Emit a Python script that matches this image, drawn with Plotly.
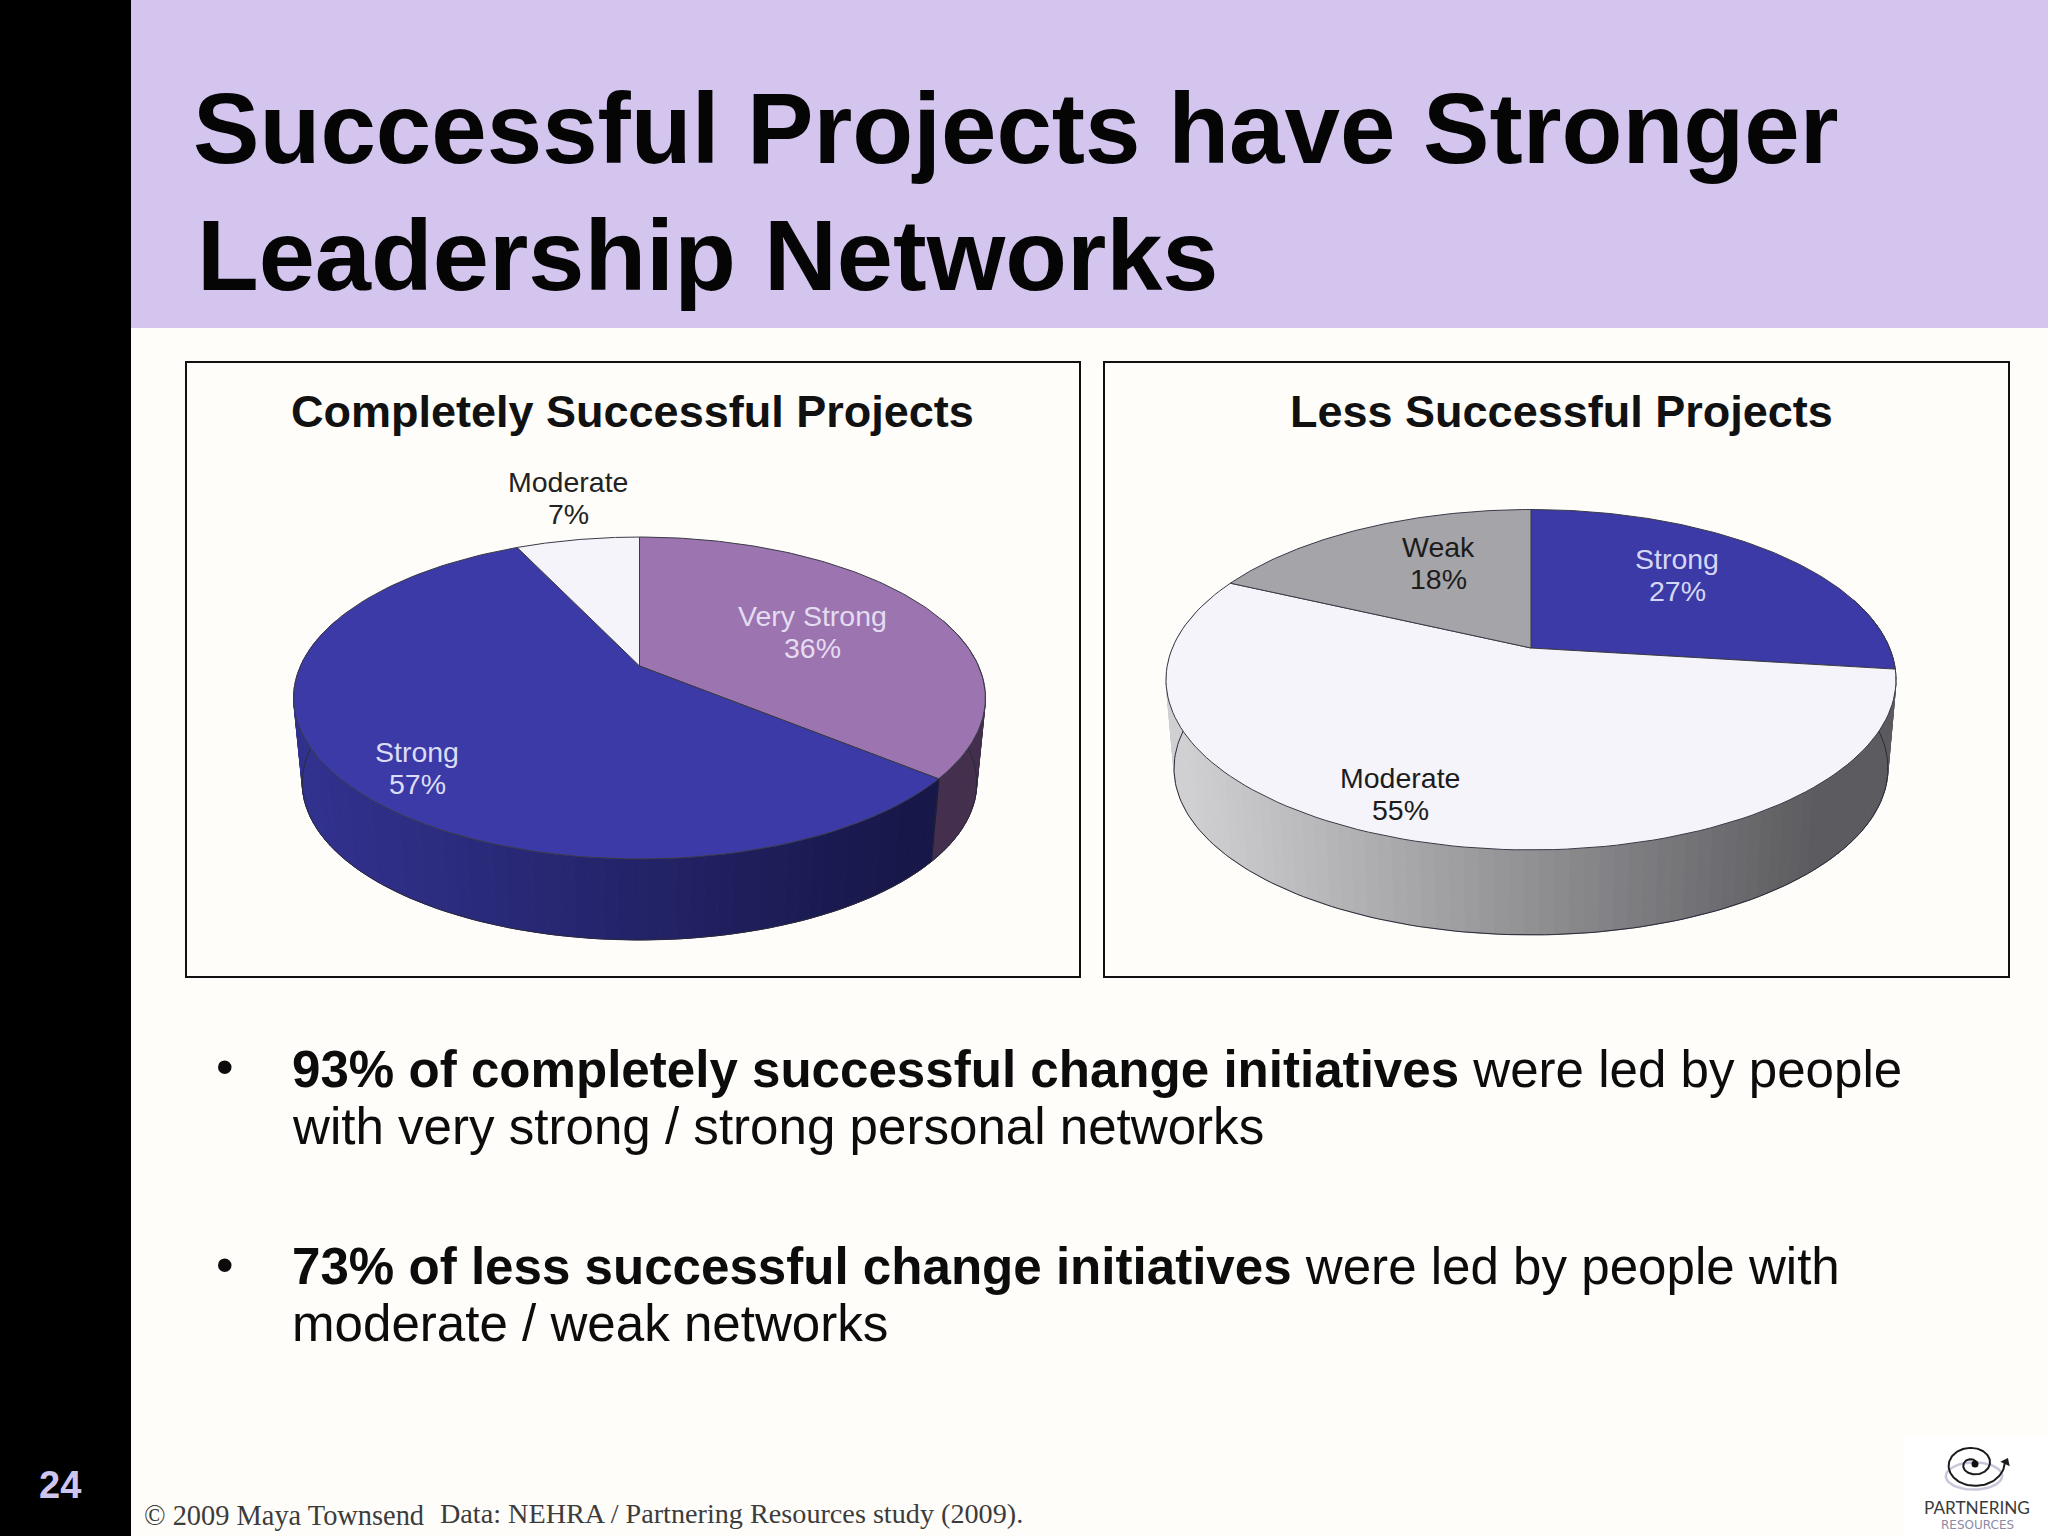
import numpy as np
import plotly.graph_objects as go

# ---------- data ----------
left_title = "Completely Successful Projects"
left_labels = ["Very Strong", "Strong", "Moderate"]
left_values = [36, 57, 7]
right_title = "Less Successful Projects"
right_labels = ["Strong", "Moderate", "Weak"]
right_values = [27, 55, 18]

slide_title = ["Successful Projects have Stronger", "Leadership Networks"]
bullet_lines = [
    "<b>93% of completely successful change initiatives</b> were led by people",
    "with very strong / strong personal networks",
    "<b>73% of less successful change initiatives</b> were led by people with",
    "moderate / weak networks",
]
page_number = "24"
copyright_text = "© 2009 Maya Townsend"
source_text = "Data: NEHRA / Partnering Resources study (2009)."

# ---------- styles / geometry (pixels on a 2048x1536 slide) ----------
BG = "#fffdf9"
PURPLE = "#9c74b0"
BLUE = "#3b3aa6"
WHITE = "#f5f4fa"
GREY = "#a5a4a8"
left_style = {
    "Very Strong": dict(top=PURPLE, wall=("#4a3456", "#44304e"), text="#e4dcf0"),
    "Strong": dict(top=BLUE, wall=("#31318e", "#171749"), text="#dcdcf6"),
    "Moderate": dict(top=WHITE, wall=("#d0d0d4", "#d0d0d4"), text="#222222"),
}
right_style = {
    "Strong": dict(top=BLUE, wall=("#31318e", "#171749"), text="#d6d6f6"),
    "Moderate": dict(top=WHITE, wall=("#d0d0d2", "#5c5b5f"), text="#1c1c1c"),
    "Weak": dict(top=GREY, wall=("#808084", "#808084"), text="#1c1c1c"),
}
left_geo = dict(cx=639.5, cy=666, a=339, b=154.6, k=0.1988, dep=85.8, sc=0.975)
right_geo = dict(cx=1531, cy=648, a=358.6, b=164.3, k=0.1864, dep=89.4, sc=0.978)
left_pos = {"Very Strong": (812, 632), "Strong": (417, 768), "Moderate": (568, 498)}
right_pos = {"Strong": (1677, 575), "Moderate": (1400, 794), "Weak": (1438, 563)}

fig = go.Figure()


def rim(t, g, lower=False):
    X, Y = np.sin(t), np.cos(t)
    w = 1 + g["k"] * Y
    sx, sy = g["a"] * X / w, g["b"] * Y / w
    if lower:
        return g["cx"] + g["sc"] * sx, g["cy"] + g["dep"] - g["sc"] * sy
    return g["cx"] + sx, g["cy"] - sy


def mix(c0, c1, f):
    a = [int(c0[i:i + 2], 16) for i in (1, 3, 5)]
    b = [int(c1[i:i + 2], 16) for i in (1, 3, 5)]
    return "#%02x%02x%02x" % tuple(round(p + (q - p) * f) for p, q in zip(a, b))


def poly(x, y, fill, line=None, width=1.0):
    fig.add_trace(go.Scatter(x=list(x), y=list(y), mode="lines", fill="toself", fillcolor=fill,
                             line=dict(color=line or fill, width=width), hoverinfo="skip", showlegend=False))


def pie(labels, values, style, g):
    total = sum(values)
    edges = np.concatenate([[0], np.cumsum(values)]) / total * 2 * np.pi
    # wall strips, front half only
    ts = np.linspace(np.radians(72), np.radians(288), 110)
    for t0, t1 in zip(ts[:-1], ts[1:]):
        mid = (t0 + t1) / 2
        idx = int(np.searchsorted(edges, mid) - 1)
        st = style[labels[idx]]
        f = (rim(mid, g)[0] - g["cx"] + g["a"]) / (2 * g["a"])
        tt = np.array([t0, t1])
        xu, yu = rim(tt, g)
        xl, yl = rim(tt[::-1], g, True)
        poly(np.r_[xu, xl, xu[0]], np.r_[yu, yl, yu[0]], mix(st["wall"][0], st["wall"][1], np.clip((f - .02) / .88, 0, 1)))
    # lower outline and slice seam
    t = np.linspace(np.radians(72), np.radians(288), 180)
    xl, yl = rim(t, g, True)
    fig.add_trace(go.Scatter(x=xl, y=yl, mode="lines", line=dict(color="#2a2a3a", width=1),
                             hoverinfo="skip", showlegend=False))
    for e in edges[1:-1]:
        if np.radians(100) < e < np.radians(260):
            xu, yu = rim(e, g)
            xb, yb = rim(e, g, True)
            fig.add_trace(go.Scatter(x=[xu, xb], y=[yu, yb], mode="lines", line=dict(color="#222233", width=1),
                                     hoverinfo="skip", showlegend=False))
    # top faces
    for i, lab in enumerate(labels):
        t = np.linspace(edges[i], edges[i + 1], 120)
        x, y = rim(t, g)
        poly(np.r_[g["cx"], x, g["cx"]], np.r_[g["cy"], y, g["cy"]], style[lab]["top"], "#3a3a48", 1)


pie(left_labels, left_values, left_style, left_geo)
pie(right_labels, right_values, right_style, right_geo)

# logo mark
sw = np.linspace(0, 2 * np.pi, 60)
fig.add_trace(go.Scatter(x=1974 + 27 * np.cos(sw) + 8 * np.sin(sw), y=1476 + 13 * np.sin(sw) - 4 * np.cos(sw),
                         mode="lines", line=dict(color="#c8c8da", width=2.5), hoverinfo="skip", showlegend=False))
th_end = 4.05 * np.pi
th = np.linspace(0.5, th_end, 220)
rr = 2 + 2.35 * th
phi = th_end - 0.12 - th
fig.add_trace(go.Scatter(x=1973 + rr * np.cos(phi), y=1464 + 0.78 * rr * np.sin(phi),
                         mode="lines", line=dict(color="#1c1c1c", width=2), hoverinfo="skip", showlegend=False))
fig.add_trace(go.Scatter(x=[1975], y=[1464], mode="markers", marker=dict(color="#111111", size=7),
                         hoverinfo="skip", showlegend=False))
fig.add_trace(go.Scatter(x=[2006], y=[1462], mode="markers",
                         marker=dict(color="#1c1c1c", size=9, symbol="triangle-up", angle=25),
                         hoverinfo="skip", showlegend=False))

# ---------- text ----------
ann = []


def text(x, y, s, size, color="#000", family="Liberation Sans", anchor="left", bold=False):
    ann.append(dict(x=x, y=y, xref="x", yref="y", text=f"<b>{s}</b>" if bold else s, showarrow=False,
                    xanchor=anchor, yanchor="middle", font=dict(family=family, size=size, color=color)))


for line, x, y, sz in zip(slide_title, (191, 195), (128, 255), (99.7, 101)):
    text(x, y, line, sz, "#050505", bold=True)
text(632, 411, left_title, 45, "#111", anchor="center", bold=True)
text(1561, 411, right_title, 45, "#111", anchor="center", bold=True)
for labs, vals, sty, pos in ((left_labels, left_values, left_style, left_pos),
                             (right_labels, right_values, right_style, right_pos)):
    for lab, v in zip(labs, vals):
        px, py = pos[lab]
        text(px, py - 16, lab, 28.5, sty[lab]["text"], anchor="center")
        text(px, py + 16, f"{v}%", 28.5, sty[lab]["text"], anchor="center")
for line, y in zip(bullet_lines, (1069, 1126, 1266, 1323)):
    text(290, y, line, 51.1, "#0c0c0c")
text(225, 1067, "•", 50, "#0c0c0c", anchor="center")
text(225, 1265, "•", 50, "#0c0c0c", anchor="center")
text(60, 1485, page_number, 38, "#cfc6f0", anchor="center", bold=True)
text(142, 1515, copyright_text, 28.4, "#3c3c3c", "Liberation Serif")
text(438, 1513, source_text, 28.2, "#3c3c3c", "Liberation Serif")
text(1977, 1507, "PARTNERING", 17.2, "#3a3a3a", "Lato", "center")
text(1977, 1525, "RESOURCES", 12, "#8a8aa5", "DejaVu Sans", "center")


def rect(x0, y0, x1, y1, fill=None, line=None, w=0):
    d = dict(type="rect", xref="x", yref="y", x0=x0, y0=y0, x1=x1, y1=y1, layer="below",
             line=dict(color=line or "rgba(0,0,0,0)", width=w))
    if fill:
        d["fillcolor"] = fill
    return d


shapes = [
    rect(131, 0, 2048, 328, "#d3c5ee"),
    rect(0, 0, 131, 1536, "#000000"),
    rect(186, 362, 1080, 977, None, "#111111", 2),
    rect(1104, 362, 2009, 977, None, "#111111", 2),
    rect(1904, 1437, 2048, 1536, "#ffffff"),
]

fig.update_layout(
    width=2048, height=1536, margin=dict(l=0, r=0, t=0, b=0), paper_bgcolor=BG, plot_bgcolor=BG,
    showlegend=False, annotations=ann, shapes=shapes,
    xaxis=dict(range=[0, 2048], visible=False, fixedrange=True),
    yaxis=dict(range=[1536, 0], visible=False, fixedrange=True),
)
fig.write_html("out.html", post_script="document.body.style.margin='0';document.documentElement.style.background='%s';" % BG,
               config=dict(displayModeBar=False))
